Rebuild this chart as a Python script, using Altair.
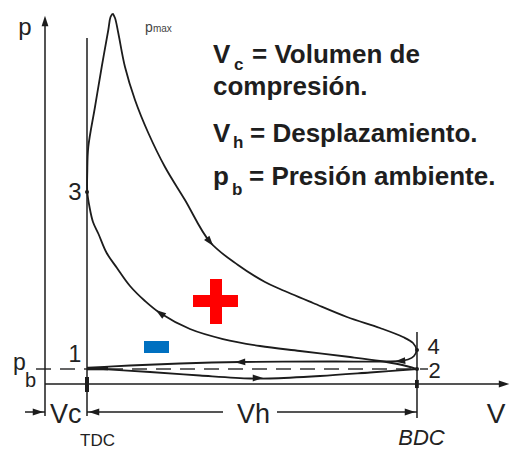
import altair as alt
import pandas as pd

# ---- data (V in units of Vc, p in bar) ----
comp_V = [8.857, 8.452, 7.976, 7.262, 6.071, 5.119, 4.238, 3.452, 2.738, 2.381, 2.024, 1.714,
          1.469, 1.274, 1.143, 1.060, 1.007, 1.007, 1.031, 1.190, 1.350, 1.507, 1.560, 1.612]
comp_p = [1.000, 1.300, 1.533, 1.800, 2.200, 2.533, 3.000, 3.667, 4.733, 5.533, 6.533, 7.733,
          8.733, 10.0, 10.8, 11.8, 12.8, 14.133, 15.8, 18.467, 21.133, 23.6, 24.467, 24.7]

exp_V = [1.612, 1.667, 1.745, 1.905, 2.143, 2.460, 2.857, 3.333, 3.929, 4.595, 5.238, 5.595,
         6.381, 7.190, 7.976, 8.524, 8.762, 8.845, 8.786, 8.643, 8.452, 7.976, 6.786, 4.643,
         3.214, 2.024, 1.000]
exp_p = [24.7, 24.4, 23.4, 21.133, 18.933, 16.733, 14.467, 12.267, 9.467, 7.933, 6.8, 6.333,
         5.4, 4.467, 3.733, 3.133, 2.733, 2.267, 1.867, 1.633, 1.533, 1.5, 1.5, 1.467,
         1.367, 1.233, 1.067]

int_V = [1.0, 2.5, 3.690, 4.881, 5.357, 6.548, 7.738, 8.857]
int_p = [1.067, 0.8, 0.567, 0.367, 0.367, 0.533, 0.767, 1.0]

# solid guide lines: V, p, V2, p2
rule_V = [0.0, 1.0, 8.857, 0.0, -0.476, 1.0, 5.524]
rule_p = [-2.133, -2.133, -2.267, 0.0, -1.867, -1.867, -1.867]
rule_V2 = [0.0, 1.0, 8.857, 10.9, 0.0, 4.238, 8.857]
rule_p2 = [24.0, 23.067, 3.467, 0.0, -1.867, -1.867, -1.867]

pb_V = [-0.214]
pb_V2 = [9.119]
pb_p = [1.0]

# arrow heads: position and direction (deg clockwise from up)
arr_V = [3.929, 2.738, 8.452, 4.643, 5.071, 0.0, 10.93, -0.167, 1.167, 8.69]
arr_p = [9.467, 4.733, 1.533, 1.467, 0.40, 24.2, 0.0, -1.867, -1.867, -1.867]
arr_ang = [141, 306, 265, 268, 90, 0, 90, 90, 270, 90]

dot_V = [1.0, 8.857, 8.857]
dot_p = [12.8, 2.267, 1.0]

# plus / minus symbols
plus_V = [3.524, 3.929]
plus_V2 = [4.595, 4.214]
plus_p = [5.933, 7.0]
plus_p2 = [5.133, 4.0]
minus_V, minus_V2, minus_p, minus_p2 = [2.357], [2.952], [2.867], [2.067]

feet_V = [0.952, 8.81]
feet_V2 = [1.048, 8.90]
feet_p = [0.467, 0.27]
feet_p2 = [-0.533, -0.27]

# labels
hand_txt = ["p", "3", "1", "4", "2", "V", "p"]
hand_V = [-0.476, 0.714, 0.714, 9.25, 9.274, 10.74, -0.762]
hand_p = [23.267, 12.267, 1.467, 2.0, 0.4, -2.6, 0.933]
hand_fs = [24, 24, 23, 22, 22, 28, 23]
hand_al = ["center", "center", "center", "center", "center", "center", "left"]

small_txt = ["b", "Vc", "Vh"]
small_V = [-0.476, 0.119, 4.571]
small_p = [-0.2, -2.6, -2.6]
small_fs = [20, 27, 27]

pmax_txt = ["p", "max"]
pmax_V = [2.381, 2.571]
pmax_p = [23.467, 23.467]
pmax_fs = [14, 10]

def_txt = ["V", "c", "= Volumen de", "compresión.", "V", "h", "= Desplazamiento.",
           "p", "b", "= Presión ambiente."]
def_V = [4.0, 4.5, 4.929, 4.0, 4.0, 4.476, 4.881, 4.0, 4.452, 4.857]
def_p = [21.4, 20.933, 21.4, 19.267, 16.133, 15.733, 16.133, 13.267, 12.6, 13.267]
def_fs = [26, 17, 26, 26, 26, 17, 26, 26, 17, 26]

xs = alt.Scale(domain=[-0.88095, 11.0714], nice=False, zero=False)
ys = alt.Scale(domain=[-4.3333, 25.0667], nice=False, zero=False)
INK = "#1c1c1c"

def X(f="V"):
    return alt.X(f"{f}:Q", scale=xs, axis=None)

def Y(f="p"):
    return alt.Y(f"{f}:Q", scale=ys, axis=None)

curves = pd.concat([
    pd.DataFrame({"V": comp_V, "p": comp_p, "seg": "comp", "o": range(len(comp_V))}),
    pd.DataFrame({"V": exp_V, "p": exp_p, "seg": "exp", "o": range(len(exp_V))}),
    pd.DataFrame({"V": int_V, "p": int_p, "seg": "int", "o": range(len(int_V))}),
])

curve_layer = alt.Chart(curves).mark_line(
    interpolate="catmull-rom", color=INK, strokeWidth=1.8
).encode(x=X(), y=Y(), detail="seg:N", order="o:Q")

rules = pd.DataFrame({"V": rule_V, "p": rule_p, "V2": rule_V2, "p2": rule_p2})
rule_layer = alt.Chart(rules).mark_rule(color=INK, strokeWidth=1.5).encode(
    x=X(), y=Y(), x2="V2:Q", y2="p2:Q")

pb = pd.DataFrame({"V": pb_V, "V2": pb_V2, "p": pb_p})
pb_layer = alt.Chart(pb).mark_rule(color="#333333", strokeWidth=1.3, strokeDash=[15, 9]).encode(
    x=X(), y=Y(), x2="V2:Q")

thick = pd.DataFrame({"V": [1.0], "V2": [1.5], "p": [1.03]})
thick_layer = alt.Chart(thick).mark_rule(color=INK, strokeWidth=3.5).encode(
    x=X(), y=Y(), x2="V2:Q")

arrows = pd.DataFrame({"V": arr_V, "p": arr_p, "ang": arr_ang})
arrow_layer = alt.Chart(arrows).mark_point(
    shape="M0,-1L0.65,1L-0.65,1Z", filled=True, color=INK, size=110, opacity=1
).encode(x=X(), y=Y(), angle=alt.Angle("ang:Q", scale=None))

dots = pd.DataFrame({"V": dot_V, "p": dot_p})
dot_layer = alt.Chart(dots).mark_point(filled=True, color=INK, size=16, opacity=1).encode(
    x=X(), y=Y())

plus = pd.DataFrame({"V": plus_V, "V2": plus_V2, "p": plus_p, "p2": plus_p2})
plus_layer = alt.Chart(plus).mark_rect(color="#ff0000").encode(
    x=X(), x2="V2:Q", y=Y(), y2="p2:Q")
minus = pd.DataFrame({"V": minus_V, "V2": minus_V2, "p": minus_p, "p2": minus_p2})
minus_layer = alt.Chart(minus).mark_rect(color="#0070c0").encode(
    x=X(), x2="V2:Q", y=Y(), y2="p2:Q")
feet = pd.DataFrame({"V": feet_V, "V2": feet_V2, "p": feet_p, "p2": feet_p2})
feet_layer = alt.Chart(feet).mark_rect(color=INK).encode(
    x=X(), x2="V2:Q", y=Y(), y2="p2:Q")

hand = pd.DataFrame({"V": hand_V, "p": hand_p, "t": hand_txt, "fs": hand_fs, "al": hand_al})
hand_c = alt.Chart(hand[hand.al == "center"]).mark_text(
    font="Liberation Sans", color="#222222", baseline="alphabetic", align="center"
).encode(x=X(), y=Y(), text="t:N", size=alt.Size("fs:Q", scale=None))
hand_l = alt.Chart(hand[hand.al == "left"]).mark_text(
    font="Liberation Sans", color="#222222", baseline="alphabetic", align="left"
).encode(x=X(), y=Y(), text="t:N", size=alt.Size("fs:Q", scale=None))

small = pd.DataFrame({"V": small_V, "p": small_p, "t": small_txt, "fs": small_fs})
small_layer = alt.Chart(small).mark_text(
    font="Liberation Sans", color="#222222", baseline="alphabetic", align="left"
).encode(x=X(), y=Y(), text="t:N", size=alt.Size("fs:Q", scale=None))

pm = pd.DataFrame({"V": pmax_V, "p": pmax_p, "t": pmax_txt, "fs": pmax_fs})
pm_layer = alt.Chart(pm).mark_text(
    font="Liberation Sans", color="#444444", baseline="alphabetic", align="left"
).encode(x=X(), y=Y(), text="t:N", size=alt.Size("fs:Q", scale=None))

tdc = pd.DataFrame({"V": [1.25], "p": [-4.1], "t": ["TDC"]})
tdc_layer = alt.Chart(tdc).mark_text(
    font="Liberation Sans", fontSize=17, color="#222222", baseline="alphabetic", align="center"
).encode(x=X(), y=Y(), text="t:N")
bdc = pd.DataFrame({"V": [8.964], "p": [-4.05], "t": ["BDC"]})
bdc_layer = alt.Chart(bdc).mark_text(
    font="Liberation Sans", fontSize=22, fontStyle="italic", color="#222222",
    baseline="alphabetic", align="center"
).encode(x=X(), y=Y(), text="t:N")

defs = pd.DataFrame({"V": def_V, "p": def_p, "t": def_txt, "fs": def_fs})
def_layer = alt.Chart(defs).mark_text(
    font="Liberation Sans", fontWeight="bold", color="#1e1e1e", baseline="alphabetic", align="left"
).encode(x=X(), y=Y(), text="t:N", size=alt.Size("fs:Q", scale=None))

chart = alt.layer(
    pb_layer, rule_layer, feet_layer, curve_layer, thick_layer, arrow_layer, dot_layer,
    plus_layer, minus_layer, hand_c, hand_l, small_layer, pm_layer, tdc_layer, bdc_layer,
    def_layer
).properties(
    width=502, height=441, autosize=alt.AutoSizeParams(type="none"), padding=0,
    background="white"
).configure_view(stroke=None)

chart.save("out.html", embed_options={"renderer": "svg", "actions": False})
